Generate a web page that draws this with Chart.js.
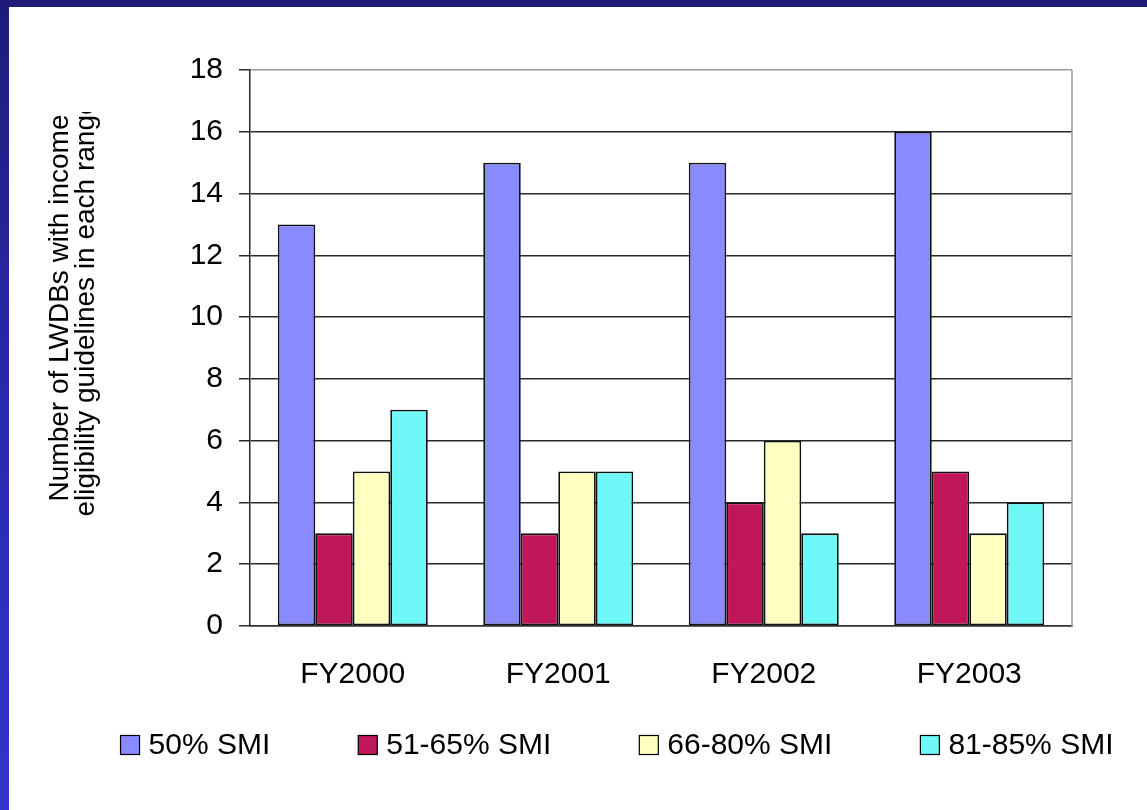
<!DOCTYPE html>
<html>
<head>
<meta charset="utf-8">
<script src="https://cdn.jsdelivr.net/npm/chart.js@4/dist/chart.umd.min.js"></script>
<style>
  html, body { margin: 0; padding: 0; background: #ffffff; }
  body { width: 1147px; height: 810px; position: relative; overflow: hidden; }
  #topbar { position: absolute; left: 0; top: 0; width: 1147px; height: 7px; background: #1e1c78; }
  #leftbar { position: absolute; left: 0; top: 0; width: 9px; height: 810px;
             background: linear-gradient(to bottom, #1e1c78 0%, #2828aa 45%, #3434cc 100%); }
  #wrap { position: absolute; left: 9px; top: 7px; width: 1138px; height: 803px; }
</style>
</head>
<body>
<div id="topbar"></div>
<div id="leftbar"></div>
<div id="wrap"><canvas id="c" width="1138" height="803"></canvas></div>
<script>
// Fiscal years on the category axis
const years = ['FY2000', 'FY2001', 'FY2002', 'FY2003'];

// Number of boards in each income range, per fiscal year
const smi50   = [13, 15, 15, 16];
const smi5165 = [3, 3, 4, 5];
const smi6680 = [5, 5, 6, 3];
const smi8185 = [7, 5, 3, 4];

const seriesNames = ['50% SMI', '51-65% SMI', '66-80% SMI', '81-85% SMI'];
const seriesColors = ['#8a8aff', '#c0175a', '#ffffc2', '#6ef8f8'];

// Value axis ticks
const yTicks = [0, 2, 4, 6, 8, 10, 12, 14, 16, 18];

const axisTitle = ['Number of LWDBs with income', 'eligibility guidelines in each range'];

const FONT = "'Liberation Sans', Arial, sans-serif";

// Rotated two-line value-axis title, clipped at the top like the original layout
const axisTitlePlugin = {
  id: 'axisTitle',
  afterDraw(chart) {
    const ctx = chart.ctx;
    ctx.save();
    ctx.beginPath();
    ctx.rect(0, 105, 240, 700);
    ctx.clip();
    ctx.fillStyle = '#000';
    ctx.font = '28px ' + FONT;
    ctx.textAlign = 'center';
    ctx.textBaseline = 'alphabetic';
    const cy = 301;
    const baselines = [59, 85];
    axisTitle.forEach((line, i) => {
      ctx.save();
      ctx.translate(baselines[i], cy);
      ctx.rotate(-Math.PI / 2);
      ctx.fillText(line, 0, 0);
      ctx.restore();
    });
    ctx.restore();
  }
};

// Grey frame on the right side of the plot area
const plotFramePlugin = {
  id: 'plotFrame',
  beforeDatasetsDraw(chart) {
    const a = chart.chartArea, ctx = chart.ctx;
    ctx.save();
    ctx.strokeStyle = '#9a9a9a';
    ctx.lineWidth = 1.5;
    ctx.beginPath();
    ctx.moveTo(a.right, a.top);
    ctx.lineTo(a.right, a.bottom);
    ctx.stroke();
    ctx.restore();
  }
};

// Single-row legend under the category axis
const legendRowPlugin = {
  id: 'legendRow',
  afterDraw(chart) {
    const ctx = chart.ctx;
    const ds = chart.data.datasets;
    const box = 19, gapText = 9, gapItem = 88;
    ctx.save();
    ctx.font = '30px ' + FONT;
    const widths = ds.map(d => box + gapText + ctx.measureText(d.label).width);
    const total = widths.reduce((s, w) => s + w, 0) + gapItem * (ds.length - 1);
    let x = 608 - total / 2;
    const cy = 738;
    ds.forEach((d, i) => {
      ctx.fillStyle = d.backgroundColor;
      ctx.fillRect(x, cy - box / 2, box, box);
      ctx.strokeStyle = '#000';
      ctx.lineWidth = 1.2;
      ctx.strokeRect(x, cy - box / 2, box, box);
      ctx.fillStyle = '#000';
      ctx.textAlign = 'left';
      ctx.textBaseline = 'middle';
      ctx.fillText(d.label, x + box + gapText, cy + 1);
      x += widths[i] + gapItem;
    });
    ctx.restore();
  }
};

const values = [smi50, smi5165, smi6680, smi8185];

new Chart(document.getElementById('c'), {
  type: 'bar',
  data: {
    labels: years,
    datasets: values.map((v, i) => ({
      label: seriesNames[i],
      data: v,
      backgroundColor: seriesColors[i],
      borderColor: '#111',
      borderWidth: 1.8,
      borderSkipped: false,
      categoryPercentage: 0.73,
      barPercentage: 1.0
    }))
  },
  options: {
    responsive: false,
    animation: false,
    devicePixelRatio: 1,
    layout: { padding: { top: 63, right: 75, bottom: 86, left: 0 } },
    plugins: {
      legend: { display: false },
      tooltip: { enabled: false },
      title: { display: false }
    },
    scales: {
      x: {
        grid: { display: false, drawTicks: false },
        border: { display: true, color: '#333', width: 1.5 },
        ticks: { color: '#000', font: { family: FONT, size: 30 }, padding: 31 }
      },
      y: {
        min: 0,
        max: 18,
        afterFit(scale) { scale.width = 241; },
        afterBuildTicks(scale) { scale.ticks = yTicks.map(v => ({ value: v })); },
        grid: {
          color: ctx => (ctx.tick && ctx.tick.value === 18 ? '#9a9a9a' : '#2a2a2a'),
          tickColor: '#2a2a2a',
          lineWidth: 1.5,
          tickLength: 11
        },
        border: { display: true, color: '#2a2a2a', width: 1.5 },
        ticks: { color: '#000', font: { family: FONT, size: 30 }, padding: 16 }
      }
    }
  },
  plugins: [axisTitlePlugin, plotFramePlugin, legendRowPlugin]
});
</script>
</body>
</html>
